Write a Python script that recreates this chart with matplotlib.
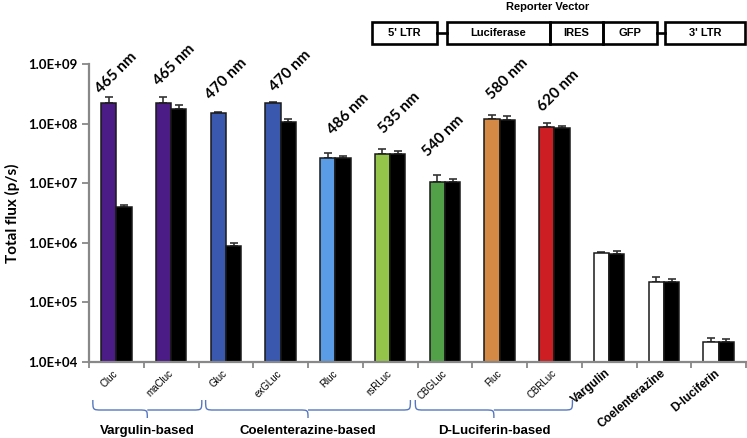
import matplotlib
matplotlib.use("Agg")
import matplotlib.pyplot as plt
import numpy as np
from matplotlib.patches import Rectangle, PathPatch
from matplotlib.path import Path
from matplotlib.ticker import FixedLocator, NullFormatter

# ---------------- data ----------------
categories = ['Cluc', 'maCluc', 'Gluc', 'exGLuc', 'Rluc', 'rsRLuc', 'CBGLuc',
              'Fluc', 'CBRLuc', 'Vargulin', 'Coelenterazine', 'D-luciferin']
luc_values = [2.19e8, 2.19e8, 1.51e8, 2.19e8, 2.65e7, 3.13e7, 1.05e7,
              1.21e8, 8.67e7, 6.67e5, 2.22e5, 2.14e4]
luc_err_top = [2.76e8, 2.76e8, 1.58e8, 2.30e8, 3.25e7, 3.71e7, 1.39e7,
               1.41e8, 1.01e8, 7.0e5, 2.64e5, 2.5e4]
gfp_values = [3.94e6, 1.76e8, 8.9e5, 1.05e8, 2.62e7, 3.13e7, 1.05e7,
              1.16e8, 8.44e7, 6.6e5, 2.22e5, 2.14e4]
gfp_err_top = [4.37e6, 2.03e8, 9.9e5, 1.18e8, 2.89e7, 3.47e7, 1.17e7,
               1.36e8, 9.22e7, 7.2e5, 2.43e5, 2.44e4]
bar_colors = ['#4B1B86', '#4B1B86', '#3A58AD', '#3A58AD', '#5B9CE6', '#94C54A',
              '#52A048', '#D48A44', '#CC1E23', '#FFFFFF', '#FFFFFF', '#FFFFFF']
wavelengths = ['465 nm', '465 nm', '470 nm', '470 nm', '486 nm', '535 nm',
               '540 nm', '580 nm', '620 nm']
ytick_values = [1e4, 1e5, 1e6, 1e7, 1e8, 1e9]
ytick_labels = ['1.0E+04', '1.0E+05', '1.0E+06', '1.0E+07', '1.0E+08', '1.0E+09']
groups = ['Vargulin-based', 'Coelenterazine-based', 'D-Luciferin-based']
vector_parts = ["5' LTR", 'Luciferase', 'IRES', 'GFP', "3' LTR"]

# ---------------- figure ----------------
W, H = 747, 438
fig = plt.figure(figsize=(W / 100, H / 100), dpi=100)
ax_l, ax_r, ax_t, ax_b = 89, 746, 64, 362
ax = fig.add_axes([ax_l / W, 1 - ax_b / H, (ax_r - ax_l) / W, (ax_b - ax_t) / H])

n = len(categories)
x = np.arange(n) + 0.5
bw = 0.28
luc_v = np.array(luc_values)
gfp_v = np.array(gfp_values)
ax.bar(x - bw / 2, luc_v, width=bw, color=bar_colors, edgecolor='#1a1a1a',
       linewidth=1.1, zorder=2)
ax.bar(x + bw / 2, gfp_v, width=bw, color='black', edgecolor='#1a1a1a',
       linewidth=1.1, zorder=2)
ax.errorbar(x - bw / 2, luc_v, yerr=[np.zeros(n), np.array(luc_err_top) - luc_v],
            fmt='none', ecolor='#333333', elinewidth=1.2, capsize=3.2, capthick=1.2, zorder=1)
ax.errorbar(x + bw / 2, gfp_v, yerr=[np.zeros(n), np.array(gfp_err_top) - gfp_v],
            fmt='none', ecolor='#333333', elinewidth=1.2, capsize=3.2, capthick=1.2, zorder=1)

ax.set_yscale('log')
ax.set_ylim(1e4, 1e9)
ax.set_xlim(0, n)
ax.yaxis.set_major_locator(FixedLocator(ytick_values))
ax.set_yticklabels(ytick_labels)
ax.yaxis.set_minor_locator(FixedLocator([]))
ax.tick_params(axis='y', which='major', direction='out', length=5, width=1.3,
               color='#888888', pad=3)
for t in ax.get_yticklabels():
    t.set_fontfamily('Lato')
    t.set_fontweight('bold')
    t.set_fontsize(9.5)

ax.set_xticks(x)
ax.set_xticklabels(categories)
ax.xaxis.set_minor_locator(FixedLocator(np.arange(n + 1)))
ax.xaxis.set_minor_formatter(NullFormatter())
ax.tick_params(axis='x', which='major', length=0, pad=7)
ax.tick_params(axis='x', which='minor', direction='out', length=4, width=1.3, color='#888888')
for i, t in enumerate(ax.get_xticklabels()):
    t.set_ha('right')
    t.set_va('center')
    t.set_rotation_mode('anchor')
    t.set_fontfamily('Liberation Sans')
    if i >= 9:
        t.set_rotation(40)
        t.set_fontweight('bold')
        t.set_fontsize(8.5)
    else:
        t.set_rotation(45)
        t.set_fontsize(7)

for s in ['top', 'right']:
    ax.spines[s].set_visible(False)
for s in ['left', 'bottom']:
    ax.spines[s].set_color('#888888')
    ax.spines[s].set_linewidth(1.6)

ax.set_ylabel('Total flux (p/s)', fontfamily='Lato', fontweight='bold', fontsize=11)
ax.yaxis.set_label_coords(-(ax_l - 20) / (ax_r - ax_l), 0.5)

# wavelength labels (pixel offsets from top of error bar, left edge of coloured bar)
dx_px = [0, 3, 0, 10, 13, 9, -2, 8, 4]
dy_px = [3, 11, 12, 10, 18, 15, 18, 15, 11]
for i, lab in enumerate(wavelengths):
    ax.annotate(lab, xy=(x[i] - bw, luc_err_top[i]), xytext=(dx_px[i], dy_px[i]),
                textcoords='offset pixels', rotation=45, rotation_mode='anchor',
                ha='left', va='baseline', fontfamily='Lato', fontweight='bold',
                fontsize=11, annotation_clip=False)

# ---------------- overlay in pixel coordinates ----------------
ov = fig.add_axes([0, 0, 1, 1])
ov.set_xlim(0, W)
ov.set_ylim(H, 0)
ov.axis('off')
ov.patch.set_visible(False)

def gx(v):
    return ax_l + v * (ax_r - ax_l) / n

brace_color = '#5677C0'
def brace(x1, x2, ytop=400, ymid=410, ybot=418, r=9):
    xc = (x1 + x2) / 2
    verts = [(x1, ytop), (x1, ymid), (x1, ymid), (x1 + r, ymid),
             (xc - r, ymid),
             (xc, ymid), (xc, ymid), (xc, ybot),
             (xc, ymid), (xc, ymid), (xc + r, ymid),
             (x2 - r, ymid),
             (x2, ymid), (x2, ymid), (x2, ytop)]
    codes = [Path.MOVETO, Path.CURVE4, Path.CURVE4, Path.CURVE4,
             Path.LINETO,
             Path.CURVE4, Path.CURVE4, Path.CURVE4,
             Path.MOVETO, Path.CURVE4, Path.CURVE4,
             Path.LINETO,
             Path.CURVE4, Path.CURVE4, Path.CURVE4]
    ov.add_patch(PathPatch(Path(verts, codes), fill=False, edgecolor=brace_color, lw=1.0))

brace_spans = [(0.07, 2.06), (2.13, 5.87), (5.96, 8.83)]
for (a, b), g in zip(brace_spans, groups):
    x1, x2 = gx(a), gx(b)
    brace(x1, x2)
    ov.text((x1 + x2) / 2, 431, g, ha='center', va='center', fontfamily='Liberation Sans',
            fontweight='bold', fontsize=9.5)

# reporter vector diagram
lw_box = 1.9
ytop, ybot = 22, 44
ymid = (ytop + ybot) / 2
boxes = [(372, 437), (447, 550), (550, 603), (603, 657), (665, 745)]
for (a, b), lab in zip(boxes, vector_parts):
    ov.add_patch(Rectangle((a, ytop), b - a, ybot - ytop, fill=False, edgecolor='black',
                           lw=lw_box))
    ov.text((a + b) / 2, ymid, lab, ha='center', va='center', fontfamily='Liberation Sans',
            fontweight='bold', fontsize=8)
ov.plot([437, 447], [ymid, ymid], color='black', lw=lw_box)
ov.plot([657, 665], [ymid, ymid], color='black', lw=lw_box)
ov.text(548, 7, 'Reporter Vector', ha='center', va='center', fontfamily='Liberation Sans',
        fontweight='bold', fontsize=8)

fig.savefig('out.png', dpi=100)
